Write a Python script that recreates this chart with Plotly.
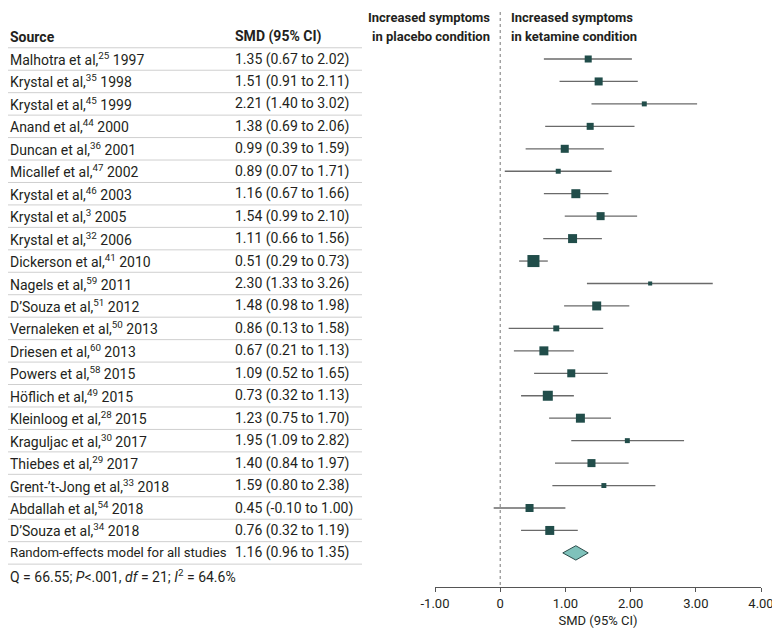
import plotly.graph_objects as go

# ---------------- data ----------------
authors = ["Malhotra et al", "Krystal et al", "Krystal et al", "Anand et al", "Duncan et al",
           "Micallef et al", "Krystal et al", "Krystal et al", "Krystal et al", "Dickerson et al",
           "Nagels et al", "D\u2019Souza et al", "Vernaleken et al", "Driesen et al", "Powers et al",
           "Höflich et al", "Kleinloog et al", "Kraguljac et al", "Thiebes et al",
           "Grent-\u2019t-Jong et al", "Abdallah et al", "D\u2019Souza et al"]
refs = ["25", "35", "45", "44", "36", "47", "46", "3", "32", "41", "59", "51", "50", "60",
        "58", "49", "28", "30", "29", "33", "54", "34"]
years = ["1997", "1998", "1999", "2000", "2001", "2002", "2003", "2005", "2006", "2010",
         "2011", "2012", "2013", "2013", "2015", "2015", "2015", "2017", "2017", "2018",
         "2018", "2018"]
smd = [1.35, 1.51, 2.21, 1.38, 0.99, 0.89, 1.16, 1.54, 1.11, 0.51, 2.30, 1.48, 0.86, 0.67,
       1.09, 0.73, 1.23, 1.95, 1.40, 1.59, 0.45, 0.76]
ci_low = [0.67, 0.91, 1.40, 0.69, 0.39, 0.07, 0.67, 0.99, 0.66, 0.29, 1.33, 0.98, 0.13, 0.21,
          0.52, 0.32, 0.75, 1.09, 0.84, 0.80, -0.10, 0.32]
ci_high = [2.02, 2.11, 3.02, 2.06, 1.59, 1.71, 1.66, 2.10, 1.56, 0.73, 3.26, 1.98, 1.58, 1.13,
           1.65, 1.13, 1.70, 2.82, 1.97, 2.38, 1.00, 1.19]
weights = [3.6, 4.7, 1.8, 3.6, 4.7, 1.8, 5.9, 4.7, 5.9, 10.6, 1.2, 5.9, 2.6, 5.9, 4.7, 7.3,
           5.9, 1.8, 4.7, 1.8, 4.7, 5.9]
pooled_label = "Random-effects model for all studies"
pooled_smd = 1.16
pooled_low = 0.96
pooled_high = 1.35
heterogeneity = "Q = 66.55; <i>P</i>&lt;.001, <i>df</i> = 21; <i>I</i><sup>2</sup> = 64.6%"
tick_vals = [-1, 0, 1, 2, 3, 4]
tick_labels = ["-1.00", "0", "1.00", "2.00", "3.00", "4.00"]

# ---------------- styling ----------------
OFF = 8                      # page body margin of the browser
W, H = 780 - OFF, 643 - OFF  # figure size that fills the visible window
FONT = "Roboto, 'Open Sans', sans-serif"
TXT = "#231f20"
SQ = "#214d4a"
n = len(smd)
rows = list(range(n))
pooled_row = n

ROW0, ROWH = 59, 22.45        # screen y of first row, row pitch
AXIS_Y = 587                  # screen y of x axis line


def px(xs):
    return (xs - OFF) / W


def row_at(ys):
    return (ys - ROW0) / ROWH


fig = go.Figure()

# CI lines + squares
fig.add_trace(go.Scatter(
    x=smd, y=rows, mode="markers",
    marker=dict(symbol="square", size=[3.7 * w ** 0.5 for w in weights], color=SQ,
                opacity=1, line=dict(width=0)),
    error_x=dict(type="data", symmetric=False,
                 array=[h - m for h, m in zip(ci_high, smd)],
                 arrayminus=[m - l for m, l in zip(smd, ci_low)],
                 width=0, thickness=1.3, color="#6a6a6a"),
    hoverinfo="skip", showlegend=False))

# pooled diamond
dh = 0.32
fig.add_trace(go.Scatter(
    x=[pooled_low, pooled_smd, pooled_high, pooled_smd, pooled_low],
    y=[pooled_row, pooled_row - dh, pooled_row, pooled_row + dh, pooled_row],
    mode="lines", fill="toself", fillcolor="#7fc2bb",
    line=dict(color="#2c4c4a", width=1), hoverinfo="skip", showlegend=False))

# zero reference line
fig.add_shape(type="line", xref="x", yref="y", x0=0, x1=0, y0=row_at(12), y1=row_at(AXIS_Y),
              line=dict(color="#777", width=1, dash="dot"))

# table text
lx, cx = px(8), px(233)
ann = []
ann.append(dict(x=lx, y=-1, text="<b>Source</b>", xanchor="left", size=14))
ann.append(dict(x=cx, y=-1, text="<b>SMD (95% CI)</b>", xanchor="left", size=14))
for i in rows:
    ann.append(dict(x=lx, y=i, xanchor="left", size=14,
                    text=f"{authors[i]},<sup>{refs[i]}</sup> {years[i]}"))
    ann.append(dict(x=cx, y=i, xanchor="left", size=14,
                    text=f"{smd[i]:.2f} ({ci_low[i]:.2f} to {ci_high[i]:.2f})"))
ann.append(dict(x=lx, y=pooled_row, xanchor="left", text=pooled_label, size=13.2))
ann.append(dict(x=cx, y=pooled_row, xanchor="left", size=14,
                text=f"{pooled_smd:.2f} ({pooled_low:.2f} to {pooled_high:.2f})"))
ann.append(dict(x=lx, y=row_at(576), xanchor="left", text=heterogeneity, size=14))
# direction labels
ann.append(dict(x=px(492), y=row_at(17), xanchor="right", text="<b>Increased symptoms</b>", size=13))
ann.append(dict(x=px(492), y=row_at(36), xanchor="right", text="<b>in placebo condition</b>", size=13))
ann.append(dict(x=px(509), y=row_at(17), xanchor="left", text="<b>Increased symptoms</b>", size=13))
ann.append(dict(x=px(509), y=row_at(36), xanchor="left", text="<b>in ketamine condition</b>", size=13))
for a in ann:
    s = a.pop("size")
    a.update(xref="paper", yref="y", yanchor="middle", showarrow=False,
             font=dict(family=FONT, size=s, color=TXT))
fig.update_layout(annotations=ann)

# row separators
for k in range(-1, n + 1):
    fig.add_shape(type="line", xref="paper", yref="y", x0=0, x1=px(362),
                  y0=k + 0.5, y1=k + 0.5, line=dict(color="#cfcfcf", width=1))

fig.update_layout(
    width=W, height=H, autosize=False,
    margin=dict(l=0, r=0, t=0, b=H - (AXIS_Y - OFF), pad=0, autoexpand=False),
    paper_bgcolor="white", plot_bgcolor="white",
    xaxis=dict(domain=[px(435), px(761)], range=[-1, 4], tickvals=tick_vals,
               ticktext=tick_labels, showgrid=False, zeroline=False, automargin=False,
               showline=True, linecolor="#555", linewidth=1,
               ticks="outside", ticklen=4, tickcolor="#555",
               tickfont=dict(family=FONT, size=13, color=TXT),
               title=dict(text="SMD (95% CI)", standoff=6,
                          font=dict(family=FONT, size=13, color=TXT))),
    yaxis=dict(range=[row_at(AXIS_Y), row_at(OFF)], visible=False, showgrid=False,
               zeroline=False, automargin=False),
    showlegend=False,
)

fig.write_html("out.html")
